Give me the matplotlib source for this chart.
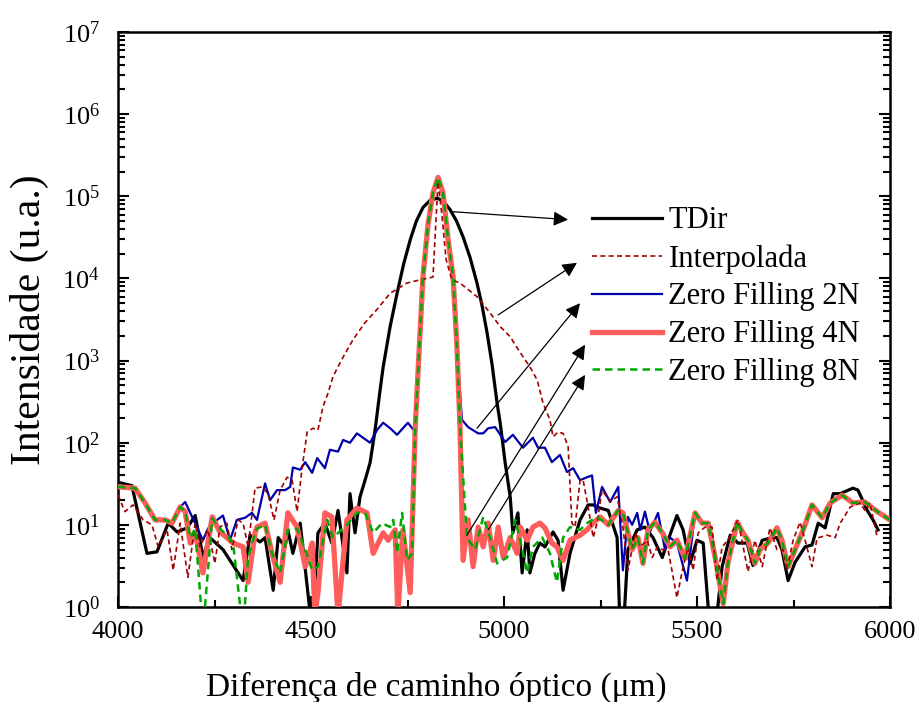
import matplotlib
matplotlib.use("Agg")
import matplotlib.pyplot as plt
from matplotlib.ticker import LogLocator, MultipleLocator, NullFormatter

plt.rcParams['font.family'] = ['Liberation Serif', 'DejaVu Serif']
plt.rcParams['mathtext.fontset'] = 'custom'
plt.rcParams['mathtext.rm'] = 'Liberation Serif'
plt.rcParams['mathtext.it'] = 'Liberation Serif:italic'

# TDir
x_tdir = [4000, 4036, 4075, 4101, 4130, 4153, 4179, 4200, 4220, 4238, 4272, 4324, 4342, 4368,
          4381, 4402, 4415, 4433, 4440, 4453, 4472, 4503, 4518, 4536, 4554, 4570, 4593, 4601,
          4614, 4627, 4640, 4653, 4666, 4679, 4687, 4705, 4723, 4740, 4757, 4773, 4790, 4808,
          4827, 4843, 4860, 4877, 4894, 4912, 4930, 4943,
          4956, 4969, 4982, 4990, 5003, 5016, 5023, 5036, 5047, 5060, 5067, 5080, 5093, 5106, 5127,
          5140, 5153, 5171, 5197, 5218, 5231, 5249, 5270, 5293, 5301, 5309, 5321, 5345, 5365,
          5386, 5410, 5425, 5448, 5464, 5482, 5500, 5516, 5534, 5547, 5565, 5586, 5606, 5630,
          5645, 5669, 5689, 5707, 5720, 5736, 5754, 5780, 5798, 5814, 5832, 5853, 5871, 5904,
          5917, 5941, 5956, 5969]
y_tdir = [33, 30, 4.5, 4.7, 10.5, 8.2, 9.2, 13, 4.1, 7, 5, 2.1, 7.5, 6.2,
          7, 1.6, 7, 5.4, 8.7, 4.5, 10.5, 0.5, 8, 10.5, 6, 15, 2.6, 24,
          8, 22, 35, 57, 143, 440, 840, 2600, 6600, 15000, 29500, 50000, 73000, 89000,
          95000, 87000, 69000, 50000, 32000, 18000, 8800, 4700,
          2200, 900, 305, 175, 57, 22, 8, 14, 2.6, 8.7, 2.6, 4.5, 6, 5.4, 8.2,
          6.5, 1.6, 4.5, 11.5, 17.5, 17.5, 16, 15, 7, 0.5, 0.5, 5, 8.7, 9.4,
          7, 4, 6.5, 13, 8.7, 3.4, 6.5, 6, 0.5, 0.5, 3.1, 7.5, 6, 6,
          3.2, 6.5, 6.9, 7, 5, 2.1, 3.5, 5.4, 5.7, 10.5, 9.2, 24, 24, 28,
          26.5, 15, 11.5, 8.7]

# Interpolada
x_interp = [4000, 4018, 4039, 4065, 4088, 4104, 4127, 4143, 4161, 4181, 4200, 4212, 4233, 4251,
            4264, 4282, 4295, 4311, 4324, 4337, 4355, 4373, 4389, 4404, 4420, 4438, 4451, 4464,
            4477, 4490, 4505, 4518, 4531, 4544, 4557, 4583, 4609, 4640, 4671, 4705, 4749, 4782,
            4816, 4829, 4839, 4850, 4865, 4886, 4930, 4964, 4990, 5016, 5042, 5067, 5086, 5101,
            5119, 5127, 5140, 5153, 5166, 5176, 5184, 5197, 5205, 5218, 5231, 5241, 5254, 5275,
            5293, 5308, 5321, 5340, 5353, 5371, 5384, 5397, 5410, 5425, 5448, 5464, 5477, 5490,
            5503, 5521, 5539, 5552, 5565, 5580, 5606, 5632, 5650, 5669, 5689, 5707, 5723, 5733,
            5749, 5767, 5780, 5798, 5811, 5837, 5858, 5871, 5897, 5922, 5935, 5948, 5967]
y_interp = [23, 14.5, 17.5, 11.5, 10, 5.4, 8.7, 2.8, 10.5, 2.3, 10.5, 5.4, 8.7, 3.4,
            9.4, 10.5, 5, 11.5, 10.5, 5.4, 28, 29, 24, 11.5, 26.5, 38, 35, 14.5,
            50, 135, 150, 143, 275, 400, 640, 1100, 1800, 2900, 4200, 6600, 8800, 9600,
            10400, 150000, 60000, 17000, 9600, 8800, 6000, 3800, 2600, 1950, 1250, 840, 580, 305,
            190, 118, 135, 130, 90, 10.5, 9.4, 35, 35, 16.5, 7, 10.5, 26.5, 19,
            22, 9.4, 2.8, 8, 5.4, 6.5, 4, 5.4, 5, 5, 1.3, 3.1, 5.4, 2.8,
            8, 9.4, 9.4, 2.1, 5.4, 6.5, 11.5, 2.7, 6.5, 3.1, 9.2, 5, 5, 2.8,
            6.5, 10.8, 6.5, 3.1, 6.9, 7.5, 7, 10.5, 16.5, 18.5, 15, 18.5, 7]

# Zero Filling 2N
x_zf2 = [4000, 4044, 4070, 4096, 4122, 4140, 4161, 4174, 4220, 4233, 4257, 4272, 4290, 4308,
         4329, 4347, 4360, 4381, 4394, 4412, 4433, 4446, 4453, 4472, 4485, 4503, 4516, 4536,
         4549, 4570, 4583, 4601, 4619, 4653, 4671, 4687, 4705, 4723, 4738, 4751, 4770, 4780,
         4790, 4803, 4816, 4829, 4842, 4855, 4868, 4878, 4891, 4907, 4933, 4946, 4959, 4977,
         5003, 5023, 5049, 5075, 5088, 5106, 5124, 5145, 5163, 5179, 5197, 5215, 5228, 5238,
         5254, 5275, 5296, 5308, 5321, 5332, 5345, 5353, 5365, 5378, 5399, 5417, 5430, 5448,
         5474, 5495, 5513, 5529, 5547, 5568, 5580, 5604, 5619, 5632, 5650, 5663, 5684, 5707,
         5720, 5736, 5754, 5775, 5798, 5824, 5845, 5876, 5904, 5935, 5967, 6000]
y_zf2 = [29, 28, 18.5, 11.5, 11.5, 10.5, 16.5, 19, 6.5, 9, 11.5, 13, 6.5, 11.5,
         12.2, 14, 11.5, 32, 20, 26.5, 26.5, 29, 50, 47, 58, 43, 65, 49,
         82, 78, 108, 100, 130, 100, 143, 175, 150, 125, 150, 175, 135, 1300,
         10500, 45000, 110000, 170000, 110000, 30000, 10500, 1500, 190, 155, 130, 130, 150, 155,
         102, 125, 87, 115, 87, 87, 58, 71, 44, 49, 35, 38, 40, 14,
         29, 19, 29, 2.8, 12.5, 10, 14, 8.7, 14.5, 8.2, 14, 5, 7, 6,
         2.1, 14, 10.5, 10.5, 4, 1.1, 3.4, 10.8, 8, 6.5, 3.4, 5, 6, 9.2,
         6.5, 3.1, 5, 8.7, 17.5, 12.2, 18.5, 23, 18.5, 19, 14.5, 11.5]

# Zero Filling 4N
x_zf4 = [4000, 4044, 4070, 4096, 4122, 4140, 4161, 4174, 4187, 4200, 4220, 4244, 4264, 4282,
         4298, 4324, 4337, 4355, 4360, 4381, 4399, 4420, 4440, 4464, 4485, 4503, 4510, 4518,
         4536, 4554, 4570, 4593, 4619, 4645, 4661, 4687, 4700, 4718, 4725, 4738, 4757, 4770,
         4780, 4790, 4803, 4816, 4829, 4842, 4855, 4868, 4878, 4886, 4894, 4907, 4920, 4933,
         4946, 4959, 4972, 4985, 4998, 5016, 5034, 5042, 5060, 5075, 5093, 5106, 5124, 5137,
         5153, 5171, 5197, 5215, 5231, 5249, 5270, 5296, 5308, 5332, 5347, 5360, 5373, 5391,
         5410, 5430, 5448, 5469, 5495, 5513, 5529, 5547, 5568, 5580, 5604, 5619, 5632, 5650,
         5663, 5684, 5707, 5720, 5736, 5754, 5775, 5798, 5824, 5845, 5876, 5904, 5935, 5967,
         6000]
y_zf4 = [29, 28, 18.5, 11.5, 11.5, 10.5, 16.5, 14.5, 6, 8, 2.6, 12.5, 8.2, 7,
         6, 5.4, 2, 8, 9.4, 10.5, 4.5, 2, 14, 9.4, 3.1, 6, 0.8, 1.5,
         14, 12.5, 0.8, 11.5, 16, 14, 4.5, 8, 6.5, 8.7, 0.8, 8.7, 1.5, 155,
         1300, 10500, 45000, 110000, 170000, 110000, 30000, 10500, 1500, 155, 3.7, 11.5, 3.1, 9.4,
         5.4, 10.5, 3.7, 9.4, 4, 7, 4.5, 9.4, 6.5, 9.4, 10.5, 9.2, 6, 5.4,
         3.7, 6.5, 7.5, 8.7, 10.5, 12.5, 10, 15, 14, 5, 7, 3.4, 8.7, 10.8,
         8, 5.4, 6.5, 3.9, 14, 10.5, 10.5, 4, 1.1, 3.4, 10.8, 8, 6.5, 3.4,
         5, 6, 9.2, 6.5, 3.1, 5, 8.7, 17.5, 12.2, 18.5, 23, 18.5, 19, 14.5,
         11.5]

# Zero Filling 8N
x_zf8 = [4000, 4044, 4070, 4096, 4122, 4140, 4161, 4174, 4187, 4200, 4220, 4244, 4264, 4282,
         4298, 4324, 4337, 4355, 4360, 4381, 4399, 4420, 4440, 4464, 4485, 4503, 4518, 4542,
         4557, 4593, 4619, 4640, 4661, 4684, 4705, 4713, 4723, 4736, 4749, 4762, 4770, 4780,
         4790, 4803, 4816, 4829, 4842, 4855, 4868, 4878, 4886, 4904, 4925, 4946, 4964, 4982,
         5008, 5029, 5042, 5060, 5075, 5099, 5119, 5137, 5153, 5171, 5197, 5215, 5241, 5270,
         5296, 5308, 5332, 5347, 5360, 5373, 5391, 5410, 5430, 5448, 5469, 5495, 5513, 5529,
         5547, 5568, 5580, 5604, 5619, 5632, 5650, 5663, 5684, 5707, 5720, 5736, 5754, 5775,
         5798, 5824, 5845, 5876, 5904, 5935, 5967, 6000]
y_zf8 = [29, 28, 18.5, 11.5, 11.5, 10.5, 16.5, 14.5, 7, 9, 0.5, 12, 9, 7.5,
         6, 0.5, 4, 8, 9, 10, 4.5, 2.6, 8.7, 9, 5, 2.8, 3.1, 11.5,
         7, 10, 14, 14, 8, 10.5, 9.4, 11.5, 4.5, 14, 3.7, 4.5, 155, 1300,
         10500, 45000, 110000, 170000, 110000, 30000, 10500, 1500, 155, 7, 5, 12.5, 7, 3.4,
         4, 11.5, 6.5, 2.6, 5.4, 7, 4.5, 2, 7, 9.4, 8.7, 10.5, 12.5, 10,
         15, 14, 5, 7, 3.4, 8.7, 10.8, 8, 5.4, 6.5, 3.9, 14, 10.5, 10.5,
         4, 1.1, 3.4, 10.8, 8, 6.5, 3.4, 5, 6, 9.2, 6.5, 3.1, 5, 8.7,
         17.5, 12.2, 18.5, 23, 18.5, 19, 14.5, 11.5]

labels = ["TDir", "Interpolada", "Zero Filling 2N", "Zero Filling 4N", "Zero Filling 8N"]

# arrows: (tail on curve) -> (head near legend)
arrow_tail = [(4865, 65000), (4985, 3600), (4930, 150), (4904, 7.5), (4959, 8.7)]
arrow_head = [(5166, 52000), (5189, 15500), (5197, 5000), (5210, 1560), (5210, 670)]

fig = plt.figure(figsize=(9.22, 7.02), dpi=100)
ax = fig.add_axes([0.128, 0.1353, 0.8373, 0.8191])

l1, = ax.plot(x_tdir, y_tdir, color='black', lw=2.3, zorder=2)
l3, = ax.plot(x_zf2, y_zf2, color='#0000aa', lw=1.6, zorder=3)
l4, = ax.plot(x_zf4, y_zf4, color='#ff5c5c', lw=3.8, zorder=4)
l2, = ax.plot(x_interp, y_interp, color='#a00000', lw=1.2, ls=(0, (3, 2)), zorder=5)
l5, = ax.plot(x_zf8, y_zf8, color='#00aa00', lw=1.8, ls=(0, (3, 2)), zorder=6)

for t, h in zip(arrow_tail, arrow_head):
    ax.annotate("", xy=h, xytext=t,
                arrowprops=dict(arrowstyle='-|>', color='black', lw=0.9,
                                mutation_scale=22, shrinkA=0, shrinkB=0), zorder=7)

ax.set_yscale('log')
ax.set_xlim(4000, 6000)
ax.set_ylim(1, 1e7)
ax.xaxis.set_major_locator(MultipleLocator(500))
ax.xaxis.set_minor_locator(MultipleLocator(250))
ax.yaxis.set_major_locator(LogLocator(base=10, numticks=20))
ax.yaxis.set_minor_locator(LogLocator(base=10, subs=range(2, 10), numticks=20))
ax.yaxis.set_minor_formatter(NullFormatter())

ax.tick_params(which='both', direction='in', top=False, right=True, width=1.5, labelsize=19)
ax.tick_params(which='major', length=8)
ax.tick_params(which='minor', length=5)
ax.tick_params(axis='x', pad=10)
ax.tick_params(axis='y', pad=13)
for s in ax.spines.values():
    s.set_linewidth(1.8)

ax.set_xlabel("Diferença de caminho óptico (μm)", fontsize=24)
ax.xaxis.set_label_coords(0.412, -0.112)
ax.set_ylabel("Intensidade (u.a.)", fontsize=30)
ax.yaxis.set_label_coords(-0.089, 0.5)

ax.legend([l1, l2, l3, l4, l5], labels, loc='upper left', bbox_to_anchor=(0.614, 0.697),
          frameon=False, fontsize=22, handlelength=2.3, handletextpad=0.2,
          labelspacing=0.29, borderpad=0, borderaxespad=0)

fig.savefig("out.png", dpi=100)
